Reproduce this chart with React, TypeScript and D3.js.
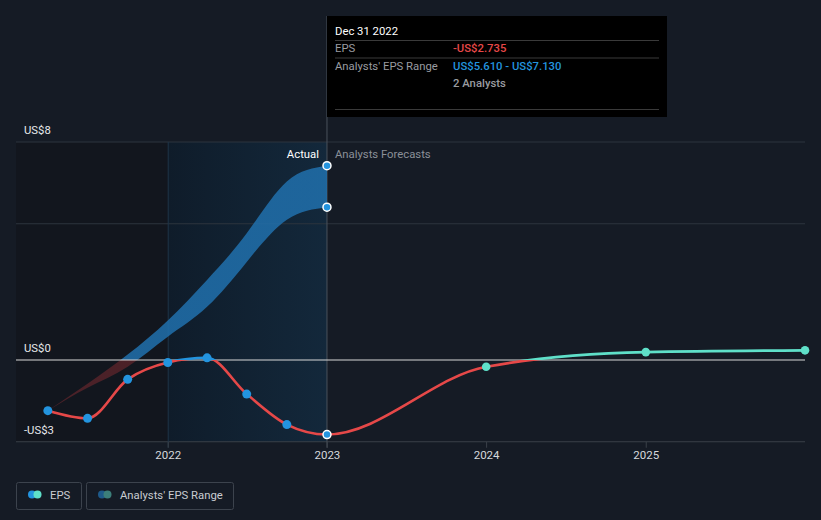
import React from 'react';
import * as d3 from 'd3';

const epsDates = ['2021-03-31', '2021-06-30', '2021-09-30', '2021-12-31', '2022-03-31', '2022-06-30', '2022-09-30', '2022-12-31'];
const epsValues = [-1.86, -2.14, -0.71, -0.09, 0.08, -1.25, -2.37, -2.735];
const forecastDates = ['2023-12-31', '2024-12-31', '2025-12-31'];
const forecastValues = [-0.25, 0.29, 0.355];
const bandDates = ['2021-03-31', '2021-06-30', '2021-09-30', '2021-12-31', '2022-03-31', '2022-06-30', '2022-09-30', '2022-12-31'];
const bandLow = [-1.86, -1.02, -0.25, 0.85, 1.95, 3.6, 5.15, 5.61];
const bandHigh = [-1.86, -0.87, 0.2, 1.45, 2.94, 4.65, 6.55, 7.13];
const yLabelValues = [8, 0, -3];
const yLabelTexts = ['US$8', 'US$0', '-US$3'];
const gridValues = [8, 5, -3];
const xTickYears = [2022, 2023, 2024, 2025];

const W = 821;
const H = 520;
const BG = '#151b25';
const RED = '#e64848';
const BLUE = '#2394df';
const TEAL = '#5fe0c9';
const FONT = 'Roboto, "Noto Sans", sans-serif';

const parse = d3.timeParse('%Y-%m-%d');

export default function App() {
  const x = d3.scaleTime().domain([parse('2021-01-17')!, parse('2025-12-31')!]).range([16, 805]);
  const y = d3.scaleLinear().domain([-3, 8]).range([441.75, 142]);

  const eps = epsDates.map((d, i) => ({ d: parse(d)!, v: epsValues[i] }));
  const fc = forecastDates.map((d, i) => ({ d: parse(d)!, v: forecastValues[i] }));
  const all = [...eps, ...fc];
  const band = bandDates.map((d, i) => ({ d: parse(d)!, lo: bandLow[i], hi: bandHigh[i] }));

  const line = d3.line<{ d: Date; v: number }>().x(p => x(p.d)).y(p => y(p.v)).curve(d3.curveMonotoneX);
  const area = d3.area<{ d: Date; lo: number; hi: number }>()
    .x(p => x(p.d)).y0(p => y(p.lo)).y1(p => y(p.hi)).curve(d3.curveNatural);

  const x2022 = x(parse('2022-01-01')!);
  const xNow = x(parse('2022-12-31')!);
  const y0 = y(0);
  const zeroFrac = (y0 - y(8)) / (y(-3) - y(8));
  const lastEps = eps[eps.length - 1];
  const bandEnd = band[band.length - 1];
  const FS = 11.3;

  return (
    <div style={{ position: 'fixed', left: 0, top: 0, width: W, height: H, background: BG }}>
      <svg width={W} height={H} style={{ display: 'block', fontFamily: FONT }}>
        <defs>
          <linearGradient id="pastLine" gradientUnits="userSpaceOnUse" x1="0" x2="0" y1={y(8)} y2={y(-3)}>
            <stop offset={zeroFrac} stopColor={BLUE} />
            <stop offset={zeroFrac} stopColor={RED} />
          </linearGradient>
          <linearGradient id="futLine" gradientUnits="userSpaceOnUse" x1="0" x2="0" y1={y(8)} y2={y(-3)}>
            <stop offset={zeroFrac} stopColor={TEAL} />
            <stop offset={zeroFrac} stopColor={RED} />
          </linearGradient>
          <linearGradient id="bandFill" gradientUnits="userSpaceOnUse" x1="0" x2="0" y1={y(8)} y2={y(-3)}>
            <stop offset={zeroFrac} stopColor="#2070ad" stopOpacity={0.85} />
            <stop offset={zeroFrac} stopColor="#7a2a30" stopOpacity={0.55} />
          </linearGradient>
          <linearGradient id="highlight" x1="0" x2="1" y1="0" y2="0">
            <stop offset="0" stopColor="#0f1c2a" />
            <stop offset="1" stopColor="#13283b" />
          </linearGradient>
          <clipPath id="clipPast">
            <rect x={0} y={0} width={xNow} height={H} />
          </clipPath>
          <clipPath id="clipFut">
            <rect x={xNow} y={0} width={W - xNow} height={H} />
          </clipPath>
        </defs>

        {/* background regions */}
        <rect x={16} y={y(8)} width={x2022 - 16} height={y(-3) - y(8)} fill="#12161e" />
        <rect x={x2022} y={y(8)} width={xNow - x2022} height={y(-3) - y(8)} fill="url(#highlight)" />

        {/* grid */}
        {gridValues.map(v => (
          <line key={v} x1={16} x2={805} y1={y(v)} y2={y(v)} stroke={v === -3 ? '#3a4049' : '#2d343e'} strokeWidth={1} />
        ))}
        <line x1={x2022} x2={x2022} y1={y(8)} y2={y(-3) + 6} stroke="#1f3347" strokeWidth={1} />
        <line x1={xNow} x2={xNow} y1={16} y2={y(-3) + 6} stroke="#4a525c" strokeWidth={1} />
        {xTickYears.map(yr => {
          const xx = x(parse(`${yr}-01-01`)!);
          return (
            <g key={yr}>
              <line x1={xx} x2={xx} y1={y(-3)} y2={y(-3) + 6} stroke="#3a4049" />
              <text x={xx} y={459} textAnchor="middle" fill="#d6d8dc" fontSize={11.5}>{yr}</text>
            </g>
          );
        })}

        {/* band */}
        <path d={area(band) || ''} fill="url(#bandFill)" />

        {/* zero line */}
        <line x1={16} x2={805} y1={y0} y2={y0} stroke="#d8d8d8" strokeWidth={1.2} />

        {/* y labels */}
        {yLabelValues.map((v, i) => (
          <text key={v} x={24} y={y(v) - 8} fill="#e6e8eb" fontSize={11.3}>{yLabelTexts[i]}</text>
        ))}

        {/* EPS line */}
        <path d={line(all) || ''} fill="none" stroke="url(#pastLine)" strokeWidth={2.6} clipPath="url(#clipPast)" />
        <path d={line(all) || ''} fill="none" stroke="url(#futLine)" strokeWidth={2.6} clipPath="url(#clipFut)" />

        {/* dots */}
        {eps.slice(0, -1).map((p, i) => (
          <circle key={i} cx={x(p.d)} cy={y(p.v)} r={4.5} fill={BLUE} />
        ))}
        {fc.map((p, i) => (
          <circle key={i} cx={x(p.d)} cy={y(p.v)} r={4.3} fill={TEAL} />
        ))}
        <circle cx={x(lastEps.d)} cy={y(lastEps.v)} r={4} fill={BLUE} stroke="#fff" strokeWidth={1.5} />
        <circle cx={x(bandEnd.d)} cy={y(bandEnd.hi)} r={4} fill={BLUE} stroke="#fff" strokeWidth={1.5} />
        <circle cx={x(bandEnd.d)} cy={y(bandEnd.lo)} r={4} fill={BLUE} stroke="#fff" strokeWidth={1.5} />

        {/* Actual / Forecast labels */}
        <text x={xNow - 8} y={158} textAnchor="end" fill="#ffffff" fontSize={FS}>Actual</text>
        <text x={xNow + 8} y={158} fill="#8b9098" fontSize={FS}>Analysts Forecasts</text>

        {/* tooltip */}
        <rect x={327} y={16} width={340} height={101} fill="#000" />
        <text x={335} y={35} fill="#fff" fontSize={FS}>Dec 31 2022</text>
        <line x1={335} x2={659} y1={40.5} y2={40.5} stroke="#3a3a3a" />
        <text x={335} y={52} fill="#9a9ca0" fontSize={FS}>EPS</text>
        <text x={453} y={52} fill={RED} fontSize={FS} fontWeight={500}>-US$2.735</text>
        <line x1={335} x2={659} y1={58} y2={58} stroke="#3a3a3a" />
        <text x={335} y={69.5} fill="#9a9ca0" fontSize={FS}>Analysts' EPS Range</text>
        <text x={453} y={69.5} fill={BLUE} fontSize={FS} fontWeight={500}>US$5.610 - US$7.130</text>
        <text x={453} y={87} fill="#9a9ca0" fontSize={FS} fontWeight={500}>2 Analysts</text>
        <line x1={335} x2={659} y1={109.5} y2={109.5} stroke="#3a3a3a" />

        {/* legend */}
        <rect x={16.5} y={482.5} width={65} height={27} rx={2} fill="none" stroke="#3c434d" />
        <circle cx={32} cy={494.5} r={4} fill={BLUE} />
        <circle cx={37.5} cy={494.5} r={4} fill={TEAL} />
        <text x={50} y={499} fill="#c9ccd1" fontSize={FS}>EPS</text>
        <rect x={86.5} y={482.5} width={147} height={27} rx={2} fill="none" stroke="#3c434d" />
        <circle cx={102} cy={494.5} r={4} fill="#1e5a8a" />
        <circle cx={107.5} cy={494.5} r={4} fill="#3c7f7a" />
        <text x={120} y={499} fill="#c9ccd1" fontSize={FS}>Analysts' EPS Range</text>
      </svg>
    </div>
  );
}
